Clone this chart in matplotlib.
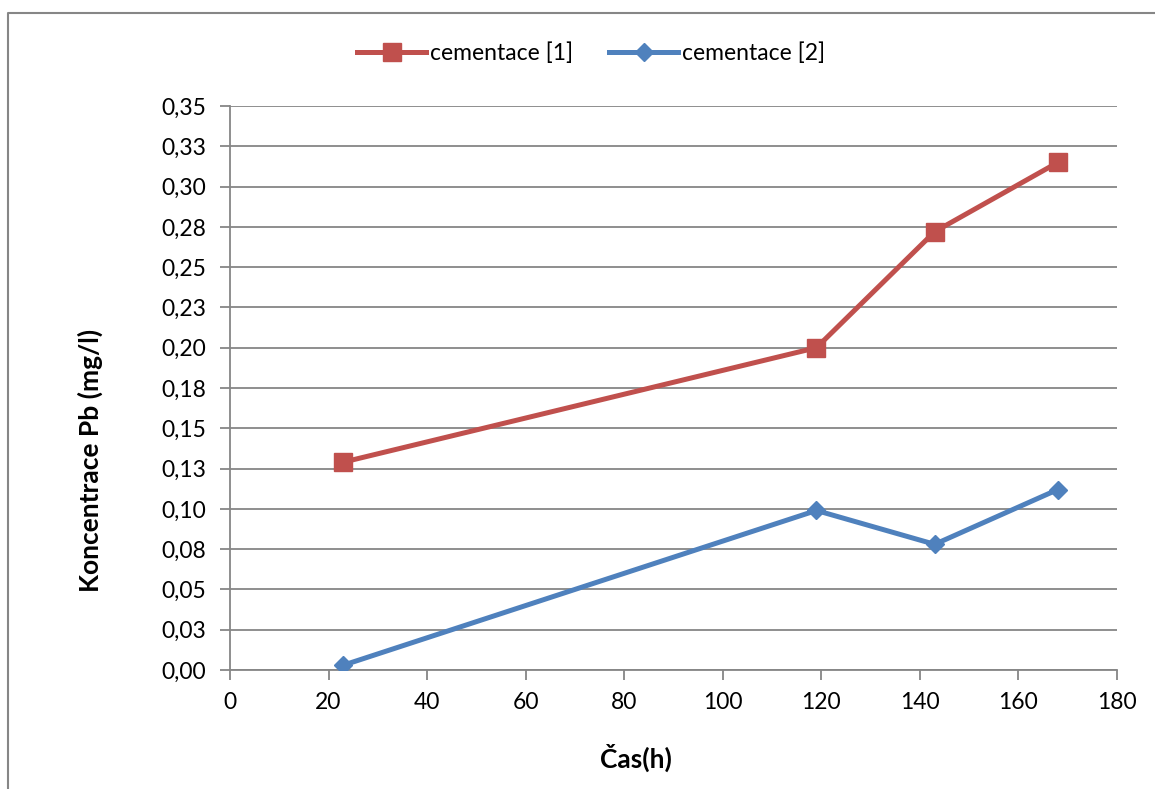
import matplotlib.pyplot as plt
from matplotlib.lines import Line2D

plt.rcParams['font.family'] = ['Lato', 'DejaVu Sans']

# time in hours
cas = [23, 119, 143, 168]
# Pb concentration (mg/l)
cem1 = [0.129, 0.200, 0.272, 0.315]
cem2 = [0.003, 0.099, 0.078, 0.112]

yticks = [i * 0.025 for i in range(15)]
ylabels = ['0,00', '0,03', '0,05', '0,08', '0,10', '0,13', '0,15', '0,18',
           '0,20', '0,23', '0,25', '0,28', '0,30', '0,33', '0,35']
xticks = [0, 20, 40, 60, 80, 100, 120, 140, 160, 180]

red = '#C0504D'
blue = '#4F81BD'
grey = '#868686'

W, H = 1155, 789
fig = plt.figure(figsize=(W / 100, H / 100), dpi=100)
ax = fig.add_axes([230 / W, 1 - 670 / H, (1117 - 230) / W, (670 - 106) / H])

ax.plot(cas, cem1, color=red, lw=3.6, marker='s', ms=13, mec=red, mfc=red,
        label='cementace [1]', solid_capstyle='round', zorder=3)
ax.plot(cas, cem2, color=blue, lw=3.6, marker='D', ms=9.5, mec=blue, mfc=blue,
        label='cementace [2]', solid_capstyle='round', zorder=3)

ax.set_xlim(0, 180)
ax.set_ylim(0, 0.35)
ax.set_xticks(xticks)
ax.set_yticks(yticks)
ax.set_yticklabels(ylabels)
ax.grid(axis='y', color=grey, lw=1.3)
ax.set_axisbelow(True)

for s in ['top', 'right']:
    ax.spines[s].set_visible(False)
for s in ['left', 'bottom']:
    ax.spines[s].set_color(grey)
    ax.spines[s].set_linewidth(1.3)
ax.tick_params(axis='both', direction='out', length=7, width=1.3, color=grey,
               labelsize=16.5)
ax.tick_params(axis='y', pad=10)
ax.tick_params(axis='x', pad=9)

# axis titles
fig.text(636 / W, 1 - 758 / H, 'Čas(h)', fontsize=19, fontweight='bold',
         ha='center', va='center')
fig.text(90 / W, 1 - 460 / H, 'Koncentrace Pb (mg/l)', fontsize=19,
         fontweight='bold', rotation=90, ha='center', va='center')

handles = [Line2D([], [], color=red, lw=3.6, marker='s', ms=13),
           Line2D([], [], color=blue, lw=3.6, marker='D', ms=9.5)]
fig.legend(handles, ['cementace [1]', 'cementace [2]'], loc='center',
           bbox_to_anchor=(591 / W, 1 - 53 / H), ncol=2, frameon=False,
           fontsize=16.5, handlelength=3.0, handletextpad=0.15, columnspacing=1.6)

# outer chart frame (top and left edges)
fig.add_artist(Line2D([8 / W, 8 / W, 1], [0, 1 - 13 / H, 1 - 13 / H],
                      color=grey, lw=1.5, transform=fig.transFigure))

fig.savefig('out.png', dpi=100)
